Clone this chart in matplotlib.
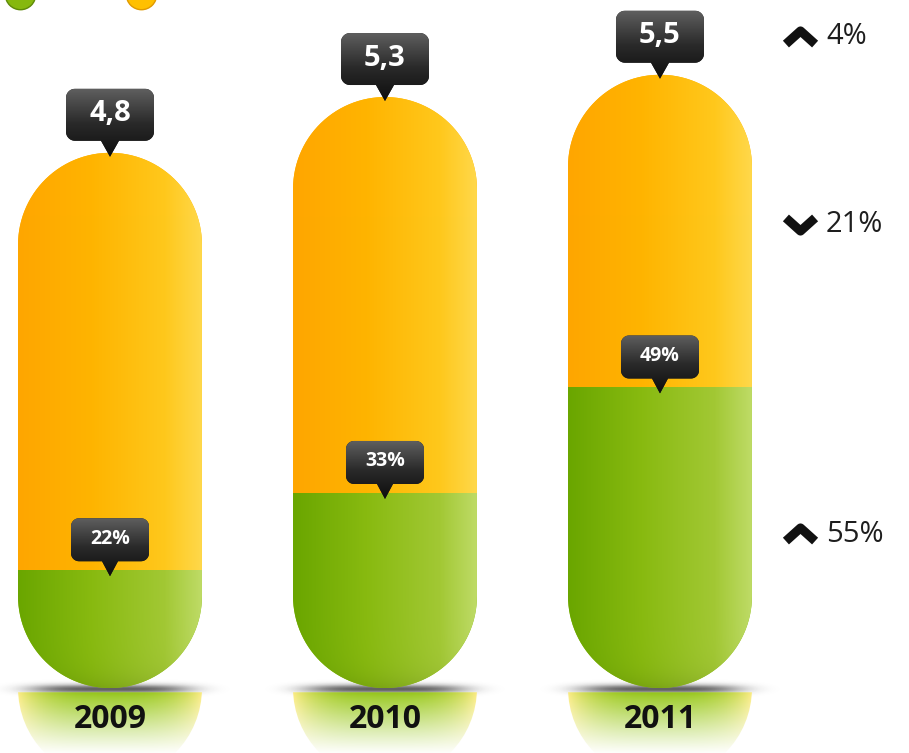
import numpy as np
import matplotlib.pyplot as plt
import matplotlib.transforms as mtransforms
from matplotlib.patches import Polygon, Ellipse
from matplotlib.path import Path
from matplotlib.colors import LinearSegmentedColormap

years = ['2009', '2010', '2011']
totals = [4.8, 5.3, 5.5]
green_share = [22, 33, 49]          # % of the total that is green
total_labels = ['4,8', '5,3', '5,5']
changes = ['4%', '21%', '55%']
change_up = [True, False, True]

plt.rcParams['font.family'] = ['Open Sans', 'DejaVu Sans']

W, H = 909, 753
fig = plt.figure(figsize=(W / 100, H / 100), dpi=100)
ax = fig.add_axes([0, 0, 1, 1])
ax.axis('off')
XLIM = (-0.4, 2.9055)
YLIM = (-0.583, 6.170)

# pixel helpers (only used for decoration placement)
def px_x(px):
    return XLIM[0] + px / W * (XLIM[1] - XLIM[0])

def px_y(py):
    return YLIM[1] - py / H * (YLIM[1] - YLIM[0])

x = np.arange(len(years))
bw = 0.669
ppu_x = W / (XLIM[1] - XLIM[0])
ppu_y = H / (YLIM[1] - YLIM[0])
ry = (bw / 2) * ppu_x / ppu_y   # round end height in data units

greens = [t * s / 100 for t, s in zip(totals, green_share)]
oranges = [t - g for t, g in zip(totals, greens)]

orange_cm = LinearSegmentedColormap.from_list(
    'o', [(0, '#FFA600'), (0.4, '#FFB400'), (0.8, '#FFC81C'), (1, '#FFD84A')])
green_cm = LinearSegmentedColormap.from_list(
    'g', [(0, '#6AA600'), (0.4, '#88BA10'), (0.8, '#A2C834'), (1, '#BEDB66')])


def pill_path(xc, top):
    rx = bw / 2
    t1 = np.linspace(np.pi, 0, 60)
    t2 = np.linspace(0, -np.pi, 60)
    top_arc = np.c_[xc + rx * np.cos(t1), top - ry + ry * np.sin(t1)]
    bot_arc = np.c_[xc + rx * np.cos(t2), ry + ry * np.sin(t2)]
    return np.vstack([top_arc, bot_arc])


def shade_img(cmap, y0, y1, n=200, m=160):
    cols = cmap(np.linspace(0, 1, n))[:, :3]
    ys = np.linspace(y0, y1, m)
    dark = 1 - 0.12 * np.exp(-ys / 0.12)          # slightly darker at the base
    img = cols[None, :, :] * dark[:, None, None]
    return np.clip(img, 0, 1)


def anchor(xd, yd):
    return fig.dpi_scale_trans + mtransforms.ScaledTranslation(xd, yd, ax.transData)


for i in range(len(years)):
    xc = x[i]
    # shadow on the floor
    tr = anchor(xc, 0)
    gx, gy = np.meshgrid(np.linspace(-1.3, 1.3, 200), np.linspace(-0.14, 0.10, 40))
    a = 0.7 * np.exp(-(gx / 0.8) ** 4) * np.exp(-((gy + 0.01) / 0.045) ** 2)
    sh = np.zeros(gx.shape + (4,))
    sh[..., :3] = 0.1
    sh[..., 3] = a
    ax.imshow(sh, extent=(-1.3, 1.3, -0.14, 0.10), origin='lower',
              transform=tr, aspect='auto', zorder=1, interpolation='bilinear')

    # reflection
    gx, gy = np.meshgrid(np.linspace(-0.92, 0.92, 120), np.linspace(-0.75, -0.04, 60))
    d = np.clip((-gy - 0.05) / 0.62, 0, 1)
    ref = np.zeros(gx.shape + (4,))
    mix = (np.abs(gx) / 0.92) ** 3
    ref[..., 0] = 0.58 + 0.40 * mix
    ref[..., 1] = 0.78 + 0.14 * mix
    ref[..., 2] = 0.08 + 0.40 * mix
    ref[..., 3] = 0.95 * (1 - d) ** 1.1 * (gy < -0.04)
    ell = Ellipse((0, 0), 1.84, 1.84, transform=tr, facecolor='none', edgecolor='none')
    ax.add_patch(ell)
    im = ax.imshow(ref, extent=(-0.92, 0.92, -0.75, -0.04), origin='lower',
                   transform=tr, aspect='auto', zorder=1, interpolation='bilinear')
    im.set_clip_path(ell)

    # the pill itself
    pill = Polygon(pill_path(xc, totals[i]), closed=True, facecolor='none',
                   edgecolor='none', zorder=2)
    ax.add_patch(pill)
    b1 = ax.bar(xc, greens[i], bw, color='#88BA10', zorder=2)
    b2 = ax.bar(xc, oranges[i], bw, bottom=greens[i], color='#FFB400', zorder=2)
    for b in list(b1) + list(b2):
        b.set_clip_path(pill)
    im_g = ax.imshow(shade_img(green_cm, 0, greens[i]), origin='lower', aspect='auto',
                     extent=(xc - bw / 2, xc + bw / 2, 0, greens[i]), zorder=3)
    im_g.set_clip_path(pill)
    im_o = ax.imshow(shade_img(orange_cm, greens[i], totals[i]), origin='lower', aspect='auto',
                     extent=(xc - bw / 2, xc + bw / 2, greens[i], totals[i]), zorder=3)
    im_o.set_clip_path(pill)


def callout(xd, yd, text, w, h, r, pw, ph, fs, tip=0.05):
    tr = anchor(xd, yd)
    pts = [(0, -tip), (pw, ph - tip)]
    for cx, cy, a0, a1 in [(w / 2 - r, ph + r, -90, 0), (w / 2 - r, ph + h - r, 0, 90),
                           (-w / 2 + r, ph + h - r, 90, 180), (-w / 2 + r, ph + r, 180, 270)]:
        t = np.radians(np.linspace(a0, a1, 12))
        pts += list(zip(cx + r * np.cos(t), cy - tip + r * np.sin(t)))
    pts.append((-pw, ph - tip))
    poly = Polygon(pts, closed=True, transform=tr, facecolor='#222222',
                   edgecolor='none', zorder=5)
    ax.add_patch(poly)
    grad = LinearSegmentedColormap.from_list('k', ['#0E0E0E', '#2A2A2A', '#5E5E5E'])
    img = grad(np.linspace(0, 1, 80))[:, None, :]
    im = ax.imshow(img, extent=(-w / 2, w / 2, -tip, ph + h - tip), origin='lower',
                   transform=tr, aspect='auto', zorder=6)
    im.set_clip_path(poly)
    ax.text(0, ph + h / 2 - tip + 0.01, text, transform=tr, ha='center', va='center',
            color='white', fontsize=fs, fontweight='bold', zorder=7)


for i in range(len(years)):
    callout(x[i], totals[i], total_labels[i], 0.88, 0.52, 0.09, 0.09, 0.16, 21, tip=0.04)
    callout(x[i], greens[i], f'{green_share[i]}%', 0.78, 0.43, 0.08, 0.08, 0.15, 14, tip=0.06)
    ax.text(x[i], px_y(720), years[i], ha='center', va='center', fontsize=23,
            fontweight='bold', color='#111111', zorder=8)

# change indicators on the right
up = Path([(-1, -0.45), (0, 0.45), (1, -0.45)])
down = Path([(-1, 0.45), (0, -0.45), (1, 0.45)])
for lab, is_up, py in zip(changes, change_up, [37, 224, 534]):
    ax.plot(px_x(800), px_y(py), marker=up if is_up else down, ms=21, mew=6.5,
            mec='#111111', mfc='none', linestyle='none', zorder=8)
    ax.text(px_x(826), px_y(py), lab, ha='left', va='center', fontsize=21,
            color='#1E1E1E', zorder=8)

# legend dots (cropped at the top edge)
ax.scatter([px_x(20)], [px_y(-6)], s=480, color='#86B80E', edgecolor='#5E8A08',
           lw=1, zorder=8, clip_on=False)
ax.scatter([px_x(141)], [px_y(-6)], s=480, color='#FFC000', edgecolor='#E09A00',
           lw=1, zorder=8, clip_on=False)

ax.set_xlim(XLIM)
ax.set_ylim(YLIM)
fig.savefig('out.png', dpi=100, facecolor='white')
